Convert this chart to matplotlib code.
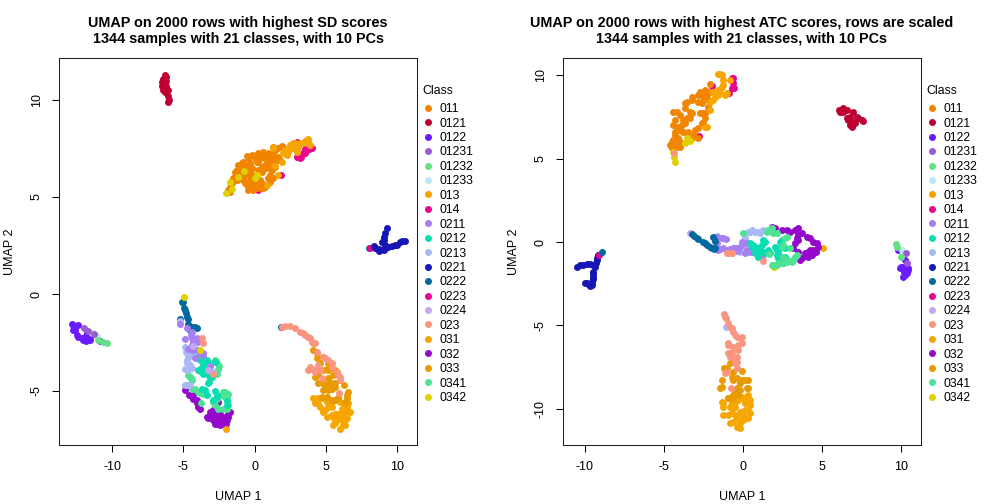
import matplotlib
matplotlib.use("Agg")
import matplotlib.pyplot as plt
from matplotlib.lines import Line2D

plt.rcParams['font.family'] = ['Liberation Sans', 'DejaVu Sans']
plt.rcParams['axes.unicode_minus'] = False

classes = ['011','0121','0122','01231','01232','01233','013','014','0211','0212','0213',
           '0221','0222','0223','0224','023','031','032','033','0341','0342']
class_colors = ['#F28500','#BE0032','#6A1BFF','#9A5BD0','#66E085','#BFE6FA','#F8A000','#E8068E',
                '#A87FF0','#0ADDB2','#A9B9F6','#1616B4','#00689F','#E8068E','#C5A8F5','#FA9580',
                '#F7A600','#9408CC','#E89B00','#4EE392','#DFD000']

# ---- left panel: SD ----
sd_0121_x = [-6.3,-6.2,-6.4,-6.2,-6.5,-6.3,-6.5,-6.2,-6.4,-6.1,-6.3,-6.1,-6.0,-6.1]
sd_0121_y = [11.3,11.2,11.1,11.0,10.9,10.8,10.7,10.7,10.5,10.5,10.4,10.2,10.0,9.9]
sd_011_x = [-0.55,0.16,0.27,0.62,1.33,1.91,0.97,1.33,1.68,0.16,-0.9,-1.25,-0.43,0.74,1.09,1.44,-0.43,-0.78,0.04,-0.43,0.74,1.09,1.09,0.27,-1.48,-1.72,-1.6,-1.72,0.27,-1.0,-0.55,-0.08,0.5,0.86,1.79,-0.31,-0.9,-0.2,0.15,0.39,
            -0.2,0.39,0.74,1.44,1.09,1.56,0.97,1.21,-1.13,-0.66,-0.2,-1.0,-0.66,-0.31,-0.55,-0.08,0.27,0.62,0.97,1.33,-1.6,-1.37,-1.83,0.5,1.44,0.86,0.27,
            -1.37,-0.78,-0.43,0.04,0.5,1.33,0.62,-0.31,-0.08,-0.66,-0.31,-1.25,1.68,2.03]
sd_011_y = [7.11,7.16,7.25,7.33,7.59,7.64,7.25,7.25,7.08,6.82,6.73,6.39,6.56,6.65,6.82,6.56,6.13,5.87,5.61,5.35,5.53,5.79,6.13,6.39,5.96,5.53,5.7,5.27,5.44,6.13,6.39,5.96,6.56,6.47,6.9,6.73,6.47,5.6,6.1,5.87,
            7.16,6.99,6.99,7.42,7.08,6.9,6.56,6.39,6.65,6.65,6.47,6.3,6.13,5.87,5.6,5.35,5.7,5.65,5.96,5.96,5.79,6.04,5.36,6.3,6.99,6.82,6.82,
            6.3,6.82,6.99,6.99,7.16,6.82,5.44,5.53,6.13,5.7,6.3,5.87,7.5,7.59]
sd_031a_x = [2.03,2.38,2.73,2.5,3.08,3.43,3.78,3.9,2.96,1.68,1.44,1.91,0.86,1.33,2.85,2.26,2.73,3.2,3.55,3.78,2.14,2.5]
sd_031a_y = [7.25,7.33,7.5,7.68,7.59,7.76,7.85,7.68,7.33,6.13,6.6,6.82,5.6,7.5,7.76,7.16,7.76,7.76,7.88,7.99,7.42,7.5]
sd_014_x = [2.96,2.96,3.27,3.67,3.55,4.0,1.84,0.2,0.27,3.55,3.83,3.43,3.2]
sd_014_y = [7.85,7.04,7.04,7.42,7.25,7.54,6.13,5.7,5.35,7.47,7.47,7.25,6.99]
sd_0342_x = [-2.0,-1.72,-1.55,-0.71,-1.18,0.16,0.04,-4.92,-3.82]
sd_0342_y = [5.18,5.79,5.41,6.35,6.01,6.13,5.99,-0.17,-2.89]
sd_0221_x = [9.28,9.12,9.05,9.16,8.7,9.4,9.98,10.33,10.57,8.35,8.7,9.63,9.05,8.93,8.81,9.16,9.87,10.22,8.46,9.05]
sd_0221_y = [3.38,3.12,2.78,2.52,2.31,2.43,2.55,2.72,2.74,2.48,2.21,2.47,2.95,2.69,2.26,2.38,2.52,2.66,2.35,2.26]
sd_0223_x = [8.11]
sd_0223_y = [2.38]
sd_0122_x = [-12.71,-12.6,-12.48,-12.13,-11.83,-11.54,-11.78,-12.36,-10.84,-12.83,-12.6,-12.36,-12.01,-11.54,-12.71,-11.9]
sd_0122_y = [-1.6,-1.86,-2.12,-2.29,-2.41,-2.24,-2.03,-1.6,-2.41,-1.55,-1.69,-2.2,-2.38,-2.38,-1.83,-2.2]
sd_01231_x = [-11.97,-11.66,-11.26]
sd_01231_y = [-1.77,-1.89,-2.08]
sd_01233_x = [-11.43,-11.03]
sd_01233_y = [-2.03,-2.17]
sd_01232_x = [-10.96,-10.6,-10.37]
sd_01232_y = [-2.38,-2.46,-2.55]
sd_0222_x = [-4.99,-4.95,-4.8,-4.64,-4.17,-4.52,-5.23,8.0,1.85,-4.88,-5.1,-4.76,-4.41,-4.64,-4.06]
sd_0222_y = [-0.4,-0.74,-1.0,-1.31,-1.69,-1.83,-1.31,2.35,-1.69,-0.83,-0.4,-1.17,-1.69,-1.52,-1.77]
sd_0213_x = [-5.2,-4.76,-4.8,-4.64,-4.71,-4.76,-4.41,-4.71,-2.93,-4.29,-4.88,-4.64,-4.88,-4.64,-4.52,-4.88,-4.52,-4.76]
sd_0213_y = [-1.4,-2.81,-2.98,-3.32,-3.58,-3.89,-3.79,-4.7,-4.01,-3.15,-2.72,-3.15,-3.84,-3.92,-3.67,-4.7,-4.7,-3.41]
sd_0211_x = [-5.23,-4.48,-4.88,-4.34,-4.01,-4.41,-3.59,-4.06,-3.12,-4.17,-4.76,-4.41,-4.41,-3.94,-4.41,-4.17,-3.82,-3.59,-4.64]
sd_0211_y = [-1.52,-2.12,-2.34,-2.46,-2.29,-2.89,-3.03,-2.86,-3.72,-3.32,-1.77,-1.95,-2.29,-2.46,-2.63,-2.81,-3.06,-3.15,-2.81]
sd_0224_x = [-4.3,-3.3]
sd_0224_y = [-2.7,-3.9]
sd_023_x = [-3.7,-3.63,-2.9,1.95,2.49,2.84,3.19,3.55,3.9,4.25,4.41,4.83,5.18,5.42,6.0,3.9,3.78,4.25,4.6,4.72,5.95,4.0,4.48,
            2.14,3.43,3.78,4.13,4.95,5.42,5.77,5.88,6.0,4.01,4.36]
sd_023_y = [-2.29,-2.55,-4.13,-1.69,-1.65,-1.77,-1.94,-2.12,-2.29,-2.55,-2.98,-3.23,-3.41,-3.75,-4.27,-3.75,-3.92,-4.0,-3.92,-4.35,-5.09,-2.46,-3.66,
            -1.65,-2.03,-2.2,-2.55,-3.32,-3.58,-4.0,-4.18,-4.44,-3.84,-3.84]
sd_0212_x = [-3.82,-3.94,-3.59,-3.24,-3.35,-3.17,-2.77,-3.94,-3.47,-3.35,-2.77,-2.6,-1.9,-2.89,-3.7,-3.35,-3.35,-3.12,-3.24,-3.59,-3.82,-3.7,-1.95,-2.65,-3.5,-3.6,-3.0]
sd_0212_y = [-3.41,-3.92,-3.58,-3.49,-4.13,-4.53,-3.49,-3.24,-4.96,-5.21,-5.01,-5.3,-5.51,-5.47,-3.75,-3.41,-3.92,-4.35,-4.61,-3.32,-3.96,-4.87,-5.73,-5.21,-3.8,-4.1,-4.3]
sd_0341_x = [-2.7,-2.54,-2.65,-4.52,-4.41,-4.17,-3.82,-3.78,-2.18,-2.0,-2.89,-2.77,-2.18,-1.83,-2.6,-2.77,-4.64,-4.48,-4.41,-3.94,-3.59,-2.3,-1.83,-2.07,-2.07,-2.54,-1.95,-2.5,-2.6,-1.95]
sd_0341_y = [-3.46,-3.84,-4.1,-4.27,-4.44,-4.92,-5.1,-5.61,-5.04,-5.21,-5.56,-5.73,-5.9,-5.73,-3.58,-3.41,-4.18,-4.35,-4.87,-5.04,-5.13,-5.21,-5.13,-5.04,-5.3,-5.9,-5.9,-3.7,-5.4,-5.35]
sd_032_x = [-4.88,-4.57,-4.06,-3.94,-3.12,-3.24,-2.77,-2.42,-2.02,-1.83,-1.72,-2.65,-2.18,-2.54,-2.89,-4.29,-4.06,-3.82,-3.35,-2.93,-2.65,-2.3,-1.95,-1.83,-2.42,-2.42,-4.3,-3.9,-2.2,-2.8,-3.0]
sd_032_y = [-4.96,-5.21,-5.44,-5.82,-6.07,-6.37,-6.68,-6.76,-6.68,-6.33,-6.07,-6.25,-6.33,-5.56,-6.0,-5.39,-5.64,-5.9,-6.33,-6.5,-6.68,-6.68,-6.5,-6.16,-6.42,-6.07,-5.2,-5.6,-6.5,-6.4,-6.2]
sd_031_x = [4.13,4.48,4.83,5.07,5.65,6.0,6.35,6.52,6.7,6.59,5.18,5.77,6.12,5.53,6.24,4.83,6.0,5.42,-2.02,
            4.25,4.6,4.95,5.42,5.07,5.65,6.0,6.35,6.52,5.42,5.88,5.65,6.12,6.35,5.53,6.19,4.48,5.88,6.24]
sd_031_y = [-5.38,-5.64,-6.07,-6.33,-6.67,-6.93,-6.76,-6.41,-6.07,-5.64,-5.81,-6.16,-5.9,-6.33,-6.24,-5.38,-5.56,-5.56,-6.94,
            -5.64,-5.81,-5.99,-5.81,-5.56,-6.16,-6.16,-6.07,-5.81,-6.24,-6.42,-6.5,-6.5,-6.5,-6.76,-6.76,-5.38,-5.38,-5.64]
sd_033_x = [5.3,4.83,5.65,4.83,5.07,5.65,6.47,6.35,4.13,4.36,4.83,5.07,5.77,5.53,4.25,5.18,6.28,4.48,
            4.95,5.3,5.65,5.18,5.42,4.72,5.42,5.88,6.59,6.52,4.83,5.18,5.65,4.36,4.6,4.48,5.18]
sd_033_y = [-4.78,-4.61,-4.78,-4.95,-5.3,-5.47,-5.21,-5.56,-2.89,-3.32,-3.27,-3.84,-4.0,-4.18,-4.27,-4.35,-4.7,-4.61,
            -4.7,-4.52,-4.61,-4.95,-4.87,-5.3,-5.47,-5.38,-5.04,-5.38,-3.92,-3.92,-3.92,-3.06,-3.58,-4.18,-3.58]

# ---- right panel: ATC ----
atc_0121_x = [6.06,6.23,6.54,6.75,6.65,7.17,7.49,7.6,6.86,7.07,6.96,6.33,6.33,6.75,6.96,7.28,6.75,6.12,6.54]
atc_0121_y = [7.93,7.93,7.93,7.53,7.33,7.49,7.33,7.29,6.93,7.13,7.83,8.03,7.83,7.33,7.23,7.43,7.03,7.83,7.43]
atc_011_x = [-4.4,-3.98,-4.29,-3.77,-4.08,-4.29,-4.4,-4.61,-4.19,-3.98,-3.66,-3.35,-3.24,-2.82,-2.4,-2.08,-2.82,-2.61,-2.4,-2.19,-2.61,-3.03,-3.24,-3.56,-3.98,-3.66,-2.5,-3.35,-4.5,-2.82,-2.29,
             -4.19,-3.56,-3.24,-3.66,-3.56,-3.24,-2.71,-2.4,-2.61,-2.71,-2.4,-2.5,-2.82,-3.14,-3.45,-3.77,-4.29,-4.08,-4.5,-4.29,-3.98,-4.4,-3.87,-4.19,-2.19,-2.08]
atc_011_y = [7.83,7.63,7.33,7.33,6.93,6.63,6.13,5.82,5.68,6.03,8.33,7.83,8.53,8.83,9.13,9.49,8.43,7.73,7.43,8.53,7.13,6.73,6.23,6.53,6.73,7.13,8.73,7.43,5.62,6.23,8.83,
             7.83,7.43,7.73,8.03,8.43,8.73,9.03,8.93,8.33,7.73,7.73,7.13,6.83,6.43,6.63,6.63,6.43,6.23,6.03,5.93,5.73,7.03,7.03,6.73,8.13,9.03]
atc_031a_x = [-1.45,-1.24,-1.35,-1.77,-1.03,-1.87,-2.08,-2.4,-1.56,-0.82,5.03,-1.56,-1.35,-1.24,-1.56,-1.87,-1.77,-1.45,-1.14,-2.29,-2.08]
atc_031a_y = [10.09,9.73,9.33,8.93,8.93,8.53,7.93,6.93,8.83,9.73,-0.38,10.09,10.03,9.43,9.13,9.03,8.73,8.93,8.83,6.93,8.43]
atc_014_x = [-0.71,-0.65,-0.71,-0.88,-1.94,-2.76,-0.61,-0.57]
atc_014_y = [9.83,9.53,9.23,8.93,9.37,6.37,9.83,9.23]
atc_0342_x = [-4.29,-4.36,-4.4,-3.56,-3.35,-3.66,1.98]
atc_0342_y = [4.82,5.12,5.42,6.23,6.06,5.96,-1.52]
atc_0221_x = [-10.46,-10.08,-9.66,-9.34,-9.45,-9.45,-9.55,-9.87,-9.66,-9.24,-9.13,-10.29,-9.87,-9.49,-9.28,-9.24,-9.45,-9.49,-9.97,-9.76,-9.55]
atc_0221_y = [-1.48,-1.38,-1.34,-1.48,-1.78,-2.08,-2.38,-2.48,-2.62,-1.08,-0.78,-1.38,-1.34,-1.38,-1.28,-0.94,-1.94,-2.22,-2.48,-2.54,-2.58]
atc_0223_x = [-9.07]
atc_0223_y = [-0.78]
atc_0222_x = [-8.92,-3.2,-2.92,-2.4,-2.08,-1.83,-1.87,-1.77,-3.09,-2.82,-2.5,-2.25,-1.98,-1.77]
atc_0222_y = [-0.62,0.48,0.26,-0.04,-0.28,-0.44,0.32,0.06,0.38,0.18,0.02,-0.18,-0.38,-0.38]
atc_0224_x = [-3.35]
atc_0224_y = [0.52]
atc_0213_x = [-1.62,0.44,0.76,1.07,-0.08,0.13,1.28,-1.07,0.34,0.55,0.97,-0.19,-0.19]
atc_0213_y = [0.38,0.62,0.62,0.56,-0.48,0.22,0.72,-5.12,0.62,0.72,0.62,-0.28,-0.58]
atc_0211_x = [-1.66,-1.07,-1.35,-1.45,-0.82,-0.4,-1.66,-0.71,0.02,0.44,0.13,-0.29,1.18,-0.5,-0.08,0.23,-0.08,0.23,0.65,-1.56,-1.24,-1.03,-0.61,-0.3,-1.24]
atc_0211_y = [0.32,0.18,0.26,-0.44,-0.44,-0.52,-0.08,-0.48,-0.08,-0.58,-0.64,-0.38,-0.98,-0.38,0.02,-0.08,-0.18,-0.48,-0.58,-0.48,-0.38,-0.48,-0.38,-0.48,0.22]
atc_023_x = [-0.93,-0.71,1.28,-4.33,-1.2,-1.07,-0.92,-0.71,-0.5,-0.19,-0.08,-0.92,-0.29,-0.71,-0.82,-0.4,-0.5,-1.13,-0.4,-0.77,
             -1.13,-0.82,-0.6,-0.4,-0.08,-0.92,-0.6,-0.29,-0.6,-0.4,-0.92,-1.03,-1.03,-0.72]
atc_023_y = [-0.64,-0.68,-1.12,5.33,-4.32,-4.58,-4.88,-5.18,-5.58,-5.78,-6.08,-6.18,-6.48,-6.58,-6.88,-6.88,-7.28,-7.88,-7.58,-8.79,
             -4.48,-5.08,-5.38,-5.68,-5.68,-6.08,-6.28,-6.18,-6.88,-7.18,-6.68,-7.78,-0.68,-0.68]
atc_0212_x = [0.55,1.07,1.39,0.76,1.28,1.7,2.34,2.13,2.65,2.23,2.55,0.76,0.44,1.28,0.97,1.39,2.34,2.23,2.44,2.02,2.65,0.97,0.65,1.18,0.97,1.6,2.13,2.55]
atc_0212_y = [-0.28,-0.28,0.02,-0.68,-0.58,-0.68,0.02,-0.48,-0.38,-0.98,-1.28,-0.28,-0.08,0.12,-0.58,-0.68,-0.38,-0.68,0.12,-0.28,-0.88,-0.88,-0.18,-0.18,-0.38,-0.48,-0.78,-1.08]
atc_0341_x = [0.02,1.6,1.91,2.76,2.55,2.97,3.18,2.76,1.91,2.23,2.55,3.39,1.66,1.49,1.81,2.13,2.65,2.44,3.28,3.07,2.44,1.81,2.13,2.86]
atc_0341_y = [0.52,0.72,0.52,0.32,-0.18,-0.38,-1.08,-1.18,-1.38,-1.28,-0.88,-0.78,-0.72,0.62,0.82,0.52,0.22,-0.28,-0.88,-1.18,-1.28,-1.38,-1.38,-1.08]
atc_032_x = [1.81,2.44,2.97,3.49,3.49,4.02,4.44,4.76,4.33,4.12,3.6,3.28,3.18,3.49,4.44,2.02,2.76,3.28,3.7,4.23,4.65,4.61,4.12,3.7,3.39,3.49,4.23,3.91]
atc_032_y = [0.92,0.72,0.62,0.82,0.42,0.32,0.02,-0.28,-0.78,-0.58,-1.08,-0.08,-0.38,-0.58,-0.48,0.82,0.72,0.72,0.52,0.22,-0.08,-0.58,-0.88,-0.98,0.22,0.12,-0.48,-0.68]
atc_01232_x = [9.64,9.75,9.97]
atc_01232_y = [-0.14,-0.28,-0.92]
atc_0122_x = [9.76,9.95,10.23,10.4,10.23,10.12,10.23,9.91,10.12,10.42,10.16,10.33]
atc_0122_y = [-0.48,-1.48,-1.58,-1.68,-1.98,-2.08,-1.08,-1.58,-1.48,-1.58,-1.78,-1.88]
atc_01233_x = [10.02]
atc_01233_y = [-0.48]
atc_01231_x = [10.27,10.33]
atc_01231_y = [-0.68,-1.28]
atc_033_x = [-1.2,-0.61,-0.08,-1.34,-1.45,-0.61,0.13,0.34,-0.4,-0.92,-0.61,-0.29,-0.82,-0.19,-1.03,-0.71,-0.4,-0.08,0.34,0.24,-1.34,-0.5,-0.71,-0.19]
atc_033_y = [-7.58,-7.78,-7.72,-8.28,-8.79,-8.28,-8.28,-8.79,-8.79,-9.39,-9.19,-9.19,-7.28,-8.48,-7.58,-8.08,-8.18,-8.28,-8.28,-8.79,-8.69,-9.09,-9.39,-8.88]
atc_031_x = [-1.34,-1.24,-1.24,-0.71,-0.71,-0.82,-0.4,-0.19,0.03,0.45,0.45,0.34,-0.19,-0.5,-0.4,0.13,-0.29,0.13,
             -1.24,-0.82,-0.61,-0.92,-0.5,-0.61,-0.19,0.03,0.34,0.34,0.45,-0.08,-0.5,-0.92,0.13,0.34]
atc_031_y = [-9.59,-9.89,-10.39,-9.69,-10.29,-10.89,-11.09,-11.19,-10.69,-10.29,-9.79,-9.19,-10.19,-9.89,-10.59,-9.49,-9.49,-10.09,
             -9.69,-9.89,-9.99,-10.39,-10.39,-10.79,-10.89,-10.39,-10.59,-9.39,-9.49,-9.29,-9.59,-9.39,-9.69,-10.09]

sd_layers = [
    (sd_0222_x, sd_0222_y, '0222'), (sd_0223_x, sd_0223_y, '0223'), (sd_0121_x, sd_0121_y, '0121'),
    (sd_014_x, sd_014_y, '014'), (sd_011_x, sd_011_y, '011'), (sd_031a_x, sd_031a_y, '031'),
    (sd_0221_x, sd_0221_y, '0221'), (sd_0122_x, sd_0122_y, '0122'),
    (sd_01233_x, sd_01233_y, '01233'), (sd_01231_x, sd_01231_y, '01231'), (sd_01232_x, sd_01232_y, '01232'),
    (sd_032_x, sd_032_y, '032'), (sd_0341_x, sd_0341_y, '0341'), (sd_0213_x, sd_0213_y, '0213'),
    (sd_0212_x, sd_0212_y, '0212'), (sd_0211_x, sd_0211_y, '0211'), (sd_0224_x, sd_0224_y, '0224'),
    (sd_031_x, sd_031_y, '031'), (sd_033_x, sd_033_y, '033'), (sd_023_x, sd_023_y, '023'),
    (sd_0342_x, sd_0342_y, '0342'),
]
atc_layers = [
    (atc_0121_x, atc_0121_y, '0121'), (atc_014_x, atc_014_y, '014'), (atc_011_x, atc_011_y, '011'),
    (atc_031a_x, atc_031a_y, '031'), (atc_0342_x, atc_0342_y, '0342'), (atc_0221_x, atc_0221_y, '0221'),
    (atc_0223_x, atc_0223_y, '0223'), (atc_0224_x, atc_0224_y, '0224'), (atc_0213_x, atc_0213_y, '0213'),
    (atc_0211_x, atc_0211_y, '0211'), (atc_0222_x, atc_0222_y, '0222'), (atc_032_x, atc_032_y, '032'),
    (atc_0212_x, atc_0212_y, '0212'), (atc_0341_x, atc_0341_y, '0341'), (atc_0122_x, atc_0122_y, '0122'),
    (atc_01233_x, atc_01233_y, '01233'), (atc_01231_x, atc_01231_y, '01231'), (atc_01232_x, atc_01232_y, '01232'),
    (atc_031_x, atc_031_y, '031'), (atc_033_x, atc_033_y, '033'), (atc_023_x, atc_023_y, '023'),
]

color_of = dict(zip(classes, class_colors))
W, H = 1008, 504
fig = plt.figure(figsize=(10.08, 5.04), dpi=100)

def panel(left_px, right_px, layers, xlim, ylim, xticks, yticks, title, leg_x):
    ax = fig.add_axes([left_px/W, 1-445/H, (right_px-left_px)/W, (445-58)/H])
    for x, y, c in layers:
        ax.scatter(x, y, s=25, color=color_of[c], linewidths=0, zorder=2)
    ax.set_xlim(*xlim)
    ax.set_ylim(*ylim)
    ax.set_xticks(xticks)
    ax.set_yticks(yticks)
    ax.tick_params(length=5.2, width=0.75, labelsize=9, pad=6.5, color='black')
    for lab in ax.get_yticklabels():
        lab.set_rotation(90)
        lab.set_va('center')
    for s in ax.spines.values():
        s.set_linewidth(0.75)
        s.set_color('#222222')
    ax.set_xlabel('UMAP 1', fontsize=9, labelpad=13)
    ax.set_ylabel('UMAP 2', fontsize=9)
    ax.yaxis.set_label_coords(-0.12, 0.5)
    ax.set_title(title, fontsize=10.4, fontweight='bold', linespacing=1.2, pad=11)
    handles = [Line2D([], [], linestyle='none', marker='o', markersize=4.0,
                      color=color_of[c], label=c) for c in classes]
    leg = ax.legend(handles=handles, title='Class', title_fontsize=8.8, fontsize=8.8, frameon=False,
                    loc='upper left', bbox_to_anchor=(leg_x/W, 1-85/H),
                    bbox_transform=fig.transFigure, borderpad=0, borderaxespad=0,
                    labelspacing=0.2, handlelength=0.9, handletextpad=0.55, alignment='left')
    leg._legend_box.sep += 2.6
    return ax

panel(59, 417, sd_layers, (-13.72, 11.4), (-7.78, 12.16), [-10,-5,0,5,10], [-5,0,5,10],
      'UMAP on 2000 rows with highest SD scores\n1344 samples with 21 classes, with 10 PCs', 422)
panel(563, 921, atc_layers, (-11.36, 11.24), (-12.19, 11.05), [-10,-5,0,5,10], [-10,-5,0,5,10],
      'UMAP on 2000 rows with highest ATC scores, rows are scaled\n1344 samples with 21 classes, with 10 PCs', 926)

fig.savefig('out.png', dpi=100)
